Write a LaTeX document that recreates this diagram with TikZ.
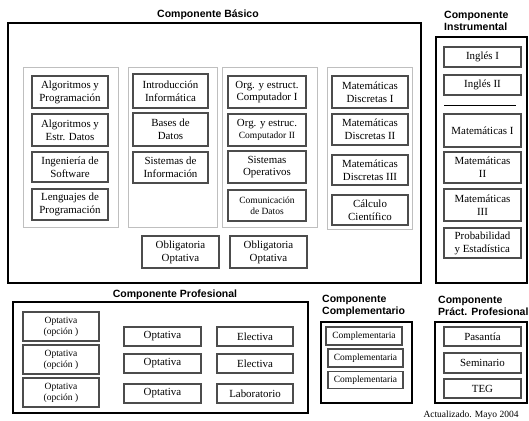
\documentclass[tikz,border=0pt]{standalone}
\usepackage{fontspec}
\setmainfont{Liberation Serif}
\setsansfont{Liberation Sans}
\usetikzlibrary{positioning}

\begin{document}
\begin{tikzpicture}[x=1pt, y=-1pt,
    frame/.style={draw, line width=2pt},
    column/.style={draw=black!25, line width=1pt},
    subj/.style={draw=black!70, line width=1.2pt, minimum width=76pt, minimum height=32pt,
      align=center, inner sep=1pt, font=\fontsize{10.9}{12.8}\selectfont},
    small/.style={font=\fontsize{9.5}{11}\selectfont},
    title/.style={font=\sffamily\bfseries\fontsize{10.5}{12}\selectfont, inner sep=0pt}]
    \useasboundingbox (0,0) rectangle (529,420);

    % Componente Basico
    \node[title] (tbas) at (208,15) {Componente Básico};
    \draw[frame] (8,23) rectangle (421,283);
    \draw[column] (23,67) rectangle (118,227);
    \draw[column] (128,67) rectangle (217,227);
    \draw[column] (222,67) rectangle (317,227);
    \draw[column] (327,67) rectangle (412,229);

    \node[subj] (alg1) at (70,92) {Algoritmos y\\Programación};
    \node[subj] (alg2) at (70,130) {Algoritmos y\\Estr. Datos};
    \node[subj, minimum height=30pt] (ing) at (70,167) {Ingeniería de\\Software};
    \node[subj, minimum height=31pt] (len) at (70,204.5) {Lenguajes de\\Programación};

    \node[subj, minimum width=75pt, minimum height=34pt] (intro) at (170.5,91) {Introducción\\Informática};
    \node[subj, minimum width=75pt, minimum height=33pt] (bd) at (170.5,129.5) {Bases de\\Datos};
    \node[subj, minimum width=75pt, minimum height=31pt] (si) at (170.5,167.5) {Sistemas de\\Información};

    \node[subj, minimum width=78pt] (org1) at (267,92) {Org. y estruct.\\Computador I};
    \node[subj, minimum width=78pt] (org2) at (267,130) {Org. y estruc.\\{\fontsize{9.5}{11}\selectfont Computador II}};
    \node[subj, minimum width=78pt] (so) at (267,167) {Sistemas\\Operativos};
    \node[subj, minimum width=78pt, minimum height=31pt, small] (com) at (267,205.5) {Comunicación\\de Datos};

    \node[subj] (md1) at (370,92) {Matemáticas\\Discretas I};
    \node[subj, minimum height=31pt] (md2) at (370,129.5) {Matemáticas\\Discretas II};
    \node[subj, minimum height=30pt] (md3) at (370,170) {Matemáticas\\Discretas III};
    \node[subj, minimum height=30pt] (calc) at (370,210) {Cálculo\\Científico};

    \node[subj, minimum width=77pt] (oo1) at (180.5,252) {Obligatoria\\Optativa};
    \node[subj, minimum width=77pt] (oo2) at (268.5,252) {Obligatoria\\Optativa};

    % Componente Instrumental
    \node[title, anchor=west, align=left] (tins) at (444,21) {Componente\\Instrumental};
    \draw[frame] (436,37) rectangle (527,283);
    \node[subj, minimum width=77pt, minimum height=20pt] (ig1) at (482.5,57) {Inglés I};
    \node[subj, minimum width=77pt, minimum height=20pt] (ig2) at (482.5,85) {Inglés II};
    \coordinate (sepa) at (444,105);
    \coordinate (sepb) at (516,105);
    \draw[line width=0.8pt] (sepa) -- (sepb);
    \node[subj, minimum width=77pt, minimum height=33pt] (m1) at (482.5,130.5) {Matemáticas I};
    \node[subj, minimum width=77pt, minimum height=31pt] (m2) at (482.5,167.5) {Matemáticas\\II};
    \node[subj, minimum width=77pt] (m3) at (482.5,205) {Matemáticas\\III};
    \node[subj, minimum width=77pt, minimum height=30pt, align=left] (pe) at (482.5,243) {Probabilidad\\y Estadística};

    % Componente Profesional
    \node[title] (tpro) at (175,295) {Componente Profesional};
    \draw[frame, line width=2.5pt] (13,302) rectangle (308,413);
    \foreach \y [count=\i] in {326.5, 359.5, 392.5} {
      \node[subj, minimum height=29pt, small] (opc\i) at (61,\y) {Optativa\\(opción )};
    }
    \foreach \y [count=\i] in {336.5, 363.5, 393.5} {
      \node[subj, minimum width=77pt, minimum height=19pt] (opt\i) at (162.5,\y) {Optativa};
    }
    \node[subj, minimum height=19pt] (ele1) at (255,336.5) {Electiva};
    \node[subj, minimum height=19pt] (ele2) at (255,363.5) {Electiva};
    \node[subj, minimum height=19pt] (lab) at (255,393.5) {Laboratorio};

    % Componente Complementario
    \node[title, anchor=west, align=left] (tcom) at (322,306) {Componente\\Complementario};
    \draw[frame] (321,322) rectangle (412,403);
    \node[subj, minimum height=18pt, small] (cpl1) at (364,336) {Complementaria};
    \node[subj, minimum width=75pt, minimum height=18pt, small] (cpl2) at (365.5,358) {Complementaria};
    \node[subj, minimum width=75pt, minimum height=17pt, small] (cpl3) at (365.5,380) {Complementaria};

    % Componente Practica Profesional
    \node[title, anchor=west, align=left] (tpra) at (438,306) {Componente\\Práct. Profesional};
    \draw[frame] (435,322) rectangle (527,403);
    \node[subj, minimum width=77pt, minimum height=19pt] (pas) at (482.5,336.5) {Pasantía};
    \node[subj, minimum width=77pt, minimum height=20pt] (sem) at (482.5,363) {Seminario};
    \node[subj, minimum width=77pt, minimum height=19pt] (teg) at (482.5,388.5) {TEG};

    \node[font=\fontsize{9.5}{11}\selectfont, inner sep=0pt] (act) at (471,415) {Actualizado. Mayo 2004};
\end{tikzpicture}
\end{document}
